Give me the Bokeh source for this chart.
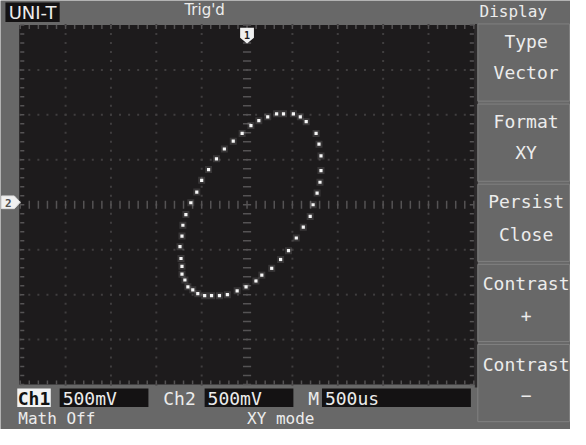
import numpy as np
from bokeh.plotting import figure
from bokeh.models import Range1d
from bokeh.core.properties import value
from bokeh.embed import file_html
from bokeh.resources import INLINE

# ---------------- data (volts, 500 mV/div) ----------------
ch1_v = [0.326, 0.402, 0.511, 0.587, 0.652, 0.761, 0.793, 0.815, 0.815, 0.804,
         0.772, 0.728, 0.696, 0.620, 0.543, 0.457, 0.370, 0.272, 0.163, 0.098,
         -0.011, -0.109, -0.217, -0.304, -0.391, -0.467, -0.543, -0.598, -0.652, -0.685,
         -0.717, -0.717, -0.728, -0.739, -0.717, -0.707, -0.674, -0.620, -0.554, -0.500,
         -0.424, -0.337, -0.250, -0.152, -0.054, 0.043, 0.130, 0.228]
ch2_v = [1.011, 1.011, 1.011, 0.978, 0.924, 0.793, 0.674, 0.543, 0.380, 0.250,
         0.130, 0.000, -0.130, -0.250, -0.370, -0.511, -0.609, -0.707, -0.783, -0.848,
         -0.913, -0.957, -1.000, -1.011, -1.011, -1.011, -0.989, -0.946, -0.913, -0.837,
         -0.772, -0.685, -0.598, -0.467, -0.348, -0.228, -0.109, 0.022, 0.141, 0.272,
         0.391, 0.511, 0.620, 0.707, 0.793, 0.880, 0.935, 0.978]

menu_title = "Display"
menu_lines = [("Type", "Vector"), ("Format", "XY"), ("Persist", "Close"),
              ("Contrast", "+"), ("Contrast", "\u2212")]
header_brand = "UNI-T"
header_status = "Trig'd"
ch1_label, ch1_scale = "Ch1", "500mV"
ch2_label, ch2_scale = "Ch2", "500mV"
time_label, time_scale = "M", "500us"
math_text = "Math Off"
mode_text = "XY  mode"

VOLT_PER_DIV = 0.5
X_DIVS, Y_DIVS = 10, 8

# ---------------- figure (screen coords in px for the UI) ----------------
GREY = "#686868"
DARK = "#1d1b1c"
TXT = "#ececec"
MONO = value("DejaVu Sans Mono")

p = figure(width=570, height=429, output_backend="svg", toolbar_location=None,
           x_range=Range1d(8, 586), y_range=Range1d(445, 6),
           x_axis_location=None, y_axis_location=None, min_border=0,
           background_fill_color=GREY, border_fill_color=GREY, outline_line_color=None)
p.grid.visible = False

# volt ranges mapped onto the graticule (28..488 px, 31..399 px, 92 px/V)
xmax = X_DIVS / 2 * VOLT_PER_DIV
ymax = Y_DIVS / 2 * VOLT_PER_DIV
pxv = 92.0
p.extra_x_ranges = {"vx": Range1d(-xmax - (28 - 8) / pxv, xmax + (586 - 488) / pxv)}
p.extra_y_ranges = {"vy": Range1d(-ymax - (445 - 399) / pxv, ymax + (31 - 6) / pxv)}
V = dict(x_range_name="vx", y_range_name="vy")

# screen area
p.quad(left=27, right=489, top=31, bottom=399, fill_color=DARK, line_color=None)
p.quad(left=489, right=492, top=30, bottom=402, fill_color="#2c2a2b", line_color=None)

# graticule
GRID = "#403e3f"
TICK = "#555354"
dx = np.arange(-xmax, xmax + 1e-6, VOLT_PER_DIV)
dy = np.arange(-ymax, ymax + 1e-6, VOLT_PER_DIV)
sx = np.arange(-xmax, xmax + 1e-6, VOLT_PER_DIV / 5)
sy = np.arange(-ymax, ymax + 1e-6, VOLT_PER_DIV / 5)
gx, gy = [], []
for yy in dy[1:-1]:
    if abs(yy) < 1e-9:
        continue
    gx += list(sx); gy += [yy] * len(sx)
for xx in dx[1:-1]:
    if abs(xx) < 1e-9:
        continue
    gx += [xx] * len(sy); gy += list(sy)
p.scatter(gx, gy, marker="square", size=2, fill_color=GRID, line_color=None, **V)

t = 0.045
# center cross ticks
p.segment(x0=sx, y0=[-t] * len(sx), x1=sx, y1=[t] * len(sx), line_color=TICK, line_width=1.5, **V)
p.segment(x0=[-t] * len(sy), y0=sy, x1=[t] * len(sy), y1=sy, line_color=TICK, line_width=1.5, **V)
# border ticks
for edge in (ymax, -ymax):
    s = -1 if edge > 0 else 1
    p.segment(x0=sx, y0=[edge] * len(sx), x1=sx, y1=[edge + s * t] * len(sx),
              line_color=TICK, line_width=1.5, **V)
for edge in (xmax, -xmax):
    s = -1 if edge > 0 else 1
    p.segment(x0=[edge] * len(sy), y0=sy, x1=[edge + s * t] * len(sy), y1=sy,
              line_color=TICK, line_width=1.5, **V)

# XY trace
p.scatter(ch1_v, ch2_v, marker="square", size=7, fill_color="#ffffff", fill_alpha=0.12,
          line_color=None, **V)
p.scatter(ch1_v, ch2_v, marker="square", size=3.2, fill_color="#f6f6f6", line_color=None, **V)

# trigger marker "1" at top centre and ch2 marker on the left
p.patch([251, 265, 265, 258, 251], [34, 34, 44, 50, 44], fill_color="#f0f0f0", line_color=None)
p.text(x=[258], y=[41], text=["1"], text_font=MONO, text_font_size="10px",
       text_font_style="bold", text_color=DARK, text_align="center", text_baseline="middle")
p.patch([9, 22, 28, 22, 9], [206, 206, 212.5, 219, 219], fill_color="#f0f0f0",
        line_color="#dcdcdc")
p.text(x=[16], y=[213], text=["2"], text_font=MONO, text_font_size="11px",
       text_font_style="bold", text_color="#505050", text_align="center", text_baseline="middle")

# header
p.quad(left=13, right=68, top=8, bottom=28, fill_color="#141213", line_color=None)
p.text(x=[40.5], y=[18.5], text=[header_brand], text_font=value("DejaVu Sans"),
       text_font_size="18px", text_color=TXT, text_align="center", text_baseline="middle")
p.text(x=[215], y=[16], text=[header_status], text_font=value("DejaVu Sans"),
       text_font_size="15px", text_color=TXT, text_align="center", text_baseline="middle")
p.text(x=[528], y=[17], text=[menu_title], text_font=MONO, text_font_size="16px",
       text_color=TXT, text_align="center", text_baseline="middle")

# menu boxes
tops = [30, 112, 194, 276, 358]
p.quad(left=[492] * 5, right=[585] * 5, top=tops, bottom=[tt + 79 for tt in tops],
       fill_color=None, line_color="#808080", line_width=1)
l1 = [48, 130, 212, 296, 378]
l2 = [80, 162, 245, 328, 410]
p.text(x=[541] * 5, y=l1, text=[a for a, b in menu_lines], text_font=MONO,
       text_font_size="18px", text_color=TXT, text_align="center", text_baseline="middle")
p.text(x=[541] * 5, y=l2, text=[b for a, b in menu_lines], text_font=MONO,
       text_font_size="18px", text_color=TXT, text_align="center", text_baseline="middle")

# bottom status bar
p.quad(left=25, right=59, top=403, bottom=422, fill_color="#f2f2f2", line_color=None)
p.quad(left=[68, 215, 334], right=[158, 305, 485], top=[403] * 3, bottom=[422] * 3,
       fill_color="#141213", line_color=None)
p.text(x=[42], y=[413], text=[ch1_label], text_font=MONO, text_font_size="18px",
       text_font_style="bold", text_color="#111111", text_align="center", text_baseline="middle")
p.text(x=[71, 173, 218, 320, 337], y=[413] * 5,
       text=[ch1_scale, ch2_label, ch2_scale, time_label, time_scale],
       text_font=MONO, text_font_size="18px", text_color=TXT, text_align="left",
       text_baseline="middle")
p.text(x=[26, 258], y=[433.5, 433.5], text=[math_text, mode_text], text_font=MONO,
       text_font_size="16px", text_color=TXT, text_align="left", text_baseline="middle")

open("out.html", "w").write(file_html(p, INLINE))
